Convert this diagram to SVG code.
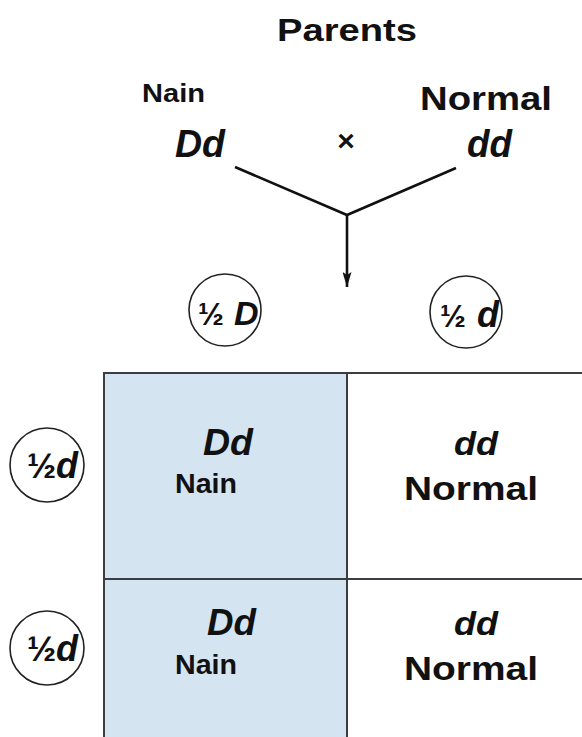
<svg xmlns="http://www.w3.org/2000/svg" width="582" height="737" viewBox="0 0 582 737">
  <defs>
    <style>
      text { font-family: "Liberation Sans", Arial, sans-serif; font-weight: bold; fill: #111; }
      .it { font-style: italic; }
      .grid { fill: none; stroke: #3a3d42; stroke-width: 2; }
      .allele { fill: #fff; stroke: #222; stroke-width: 1.6; }
      .link { fill: none; stroke: #111; stroke-width: 2.6; }
    </style>
    <marker id="arrowhead" markerWidth="15" markerHeight="9" refX="15" refY="4.5" orient="auto" markerUnits="userSpaceOnUse" viewBox="0 0 15 9">
      <path d="M0,0 L15,4.5 L0,9 L3,4.5 Z" fill="#111"/>
    </marker>
  </defs>

  <rect width="582" height="737" fill="#fff"/>

  <!-- title -->
  <g id="title">
    <text x="277" y="41" font-size="32" textLength="140" lengthAdjust="spacingAndGlyphs">Parents</text>
  </g>

  <!-- parents -->
  <g id="parent-nain">
    <text x="142" y="102" font-size="26" textLength="63" lengthAdjust="spacingAndGlyphs">Nain</text>
    <text class="it" x="175" y="157" font-size="38" textLength="50" lengthAdjust="spacingAndGlyphs">Dd</text>
  </g>
  <g id="cross">
    <text x="346" y="151" font-size="30" text-anchor="middle">×</text>
  </g>
  <g id="parent-normal">
    <text x="420" y="110" font-size="34" textLength="132" lengthAdjust="spacingAndGlyphs">Normal</text>
    <text class="it" x="467" y="157" font-size="38" textLength="45" lengthAdjust="spacingAndGlyphs">dd</text>
  </g>

  <!-- connectors -->
  <g id="connectors">
    <polyline class="link" points="235,167 347,215 456,168"/>
    <line class="link" x1="347" y1="215" x2="347" y2="287" marker-end="url(#arrowhead)"/>
  </g>

  <!-- gametes -->
  <g id="gamete-D">
    <circle class="allele" cx="225" cy="310" r="36"/>
    <text y="325"><tspan x="198" font-size="31">½</tspan><tspan class="it" x="234" font-size="34">D</tspan></text>
  </g>
  <g id="gamete-d-top">
    <circle class="allele" cx="466" cy="312" r="36"/>
    <text y="327"><tspan x="440" font-size="31">½</tspan><tspan class="it" x="477" font-size="36">d</tspan></text>
  </g>
  <g id="gamete-d-row1">
    <circle class="allele" cx="47" cy="465" r="37"/>
    <text y="478"><tspan x="27" font-size="35">½</tspan><tspan class="it" x="56" font-size="36">d</tspan></text>
  </g>
  <g id="gamete-d-row2">
    <circle class="allele" cx="47" cy="648" r="37"/>
    <text y="661"><tspan x="27" font-size="35">½</tspan><tspan class="it" x="56" font-size="36">d</tspan></text>
  </g>

  <!-- punnett square -->
  <g id="square">
    <rect x="104" y="373" width="243" height="370" fill="#d5e4f1"/>
    <rect class="grid" x="104" y="373" width="490" height="380"/>
    <line class="grid" x1="347" y1="373" x2="347" y2="737"/>
    <line class="grid" x1="104" y1="579" x2="582" y2="579"/>
  </g>

  <g id="cell-r1c1">
    <text class="it" x="203" y="455" font-size="36" textLength="50" lengthAdjust="spacingAndGlyphs">Dd</text>
    <text x="175" y="493" font-size="27" textLength="62" lengthAdjust="spacingAndGlyphs">Nain</text>
  </g>
  <g id="cell-r1c2">
    <text class="it" x="454" y="455" font-size="34" textLength="44" lengthAdjust="spacingAndGlyphs">dd</text>
    <text x="404" y="500" font-size="33" textLength="134" lengthAdjust="spacingAndGlyphs">Normal</text>
  </g>
  <g id="cell-r2c1">
    <text class="it" x="207" y="635" font-size="36" textLength="49" lengthAdjust="spacingAndGlyphs">Dd</text>
    <text x="175" y="674" font-size="27" textLength="62" lengthAdjust="spacingAndGlyphs">Nain</text>
  </g>
  <g id="cell-r2c2">
    <text class="it" x="454" y="635" font-size="34" textLength="44" lengthAdjust="spacingAndGlyphs">dd</text>
    <text x="404" y="680" font-size="33" textLength="134" lengthAdjust="spacingAndGlyphs">Normal</text>
  </g>
</svg>
